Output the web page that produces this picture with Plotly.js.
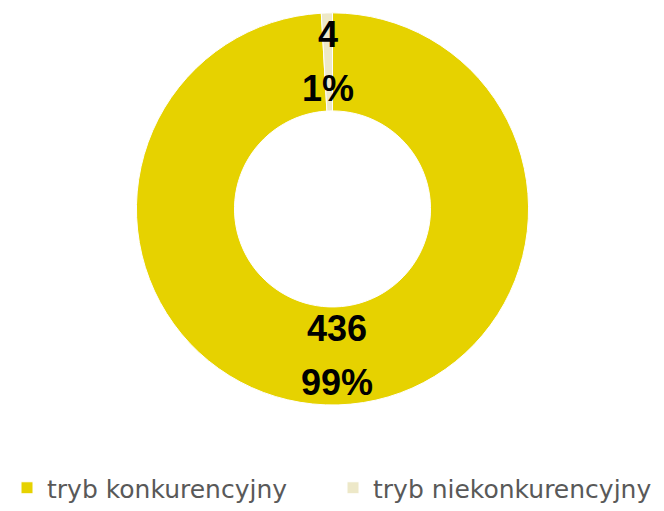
<!DOCTYPE html>
<html>
<head>
<meta charset="utf-8">
<script src="https://cdn.plot.ly/plotly-3.0.1.min.js"></script>
<style>html,body{margin:0;padding:0;background:#fff;}#chart{width:664px;height:511px;}</style>
</head>
<body>
<div id="chart"></div>
<script>
// Data
const categories = ['tryb konkurencyjny', 'tryb niekonkurencyjny'];
const values = [436, 4];
const colors = ['#E6D200', '#EDE8C8'];

const W = 664, H = 511;
const hole = 0.5;
// pie placement (pixels): circle occupies y 13..409, full width
const dom = {x: [1 / W, 1], y: [(H - 409) / H, (H - 13) / H]};
const domW = (dom.x[1] - dom.x[0]) * W;
const domH = (dom.y[1] - dom.y[0]) * H;
const cx = (dom.x[0] + dom.x[1]) / 2;
const cy = (dom.y[0] + dom.y[1]) / 2;

// Data labels placed at mid-ring of each slice, derived from the values
const total = values.reduce((a, b) => a + b, 0);
const Rpx = Math.min(domW, domH) / 2;
const rMid = Rpx * (1 + hole) / 2;
const annotations = [];
let cum = 0;
values.forEach((v, i) => {
  const mid = (cum + v / 2) / total * 2 * Math.PI; // clockwise from top
  cum += v;
  const x = cx + rMid * Math.sin(mid) / W;
  const y = cy + rMid * Math.cos(mid) / H;
  const font = {family: 'Liberation Sans, Arial, sans-serif', size: 36, color: '#000000', weight: 'bold'};
  annotations.push({xref: 'paper', yref: 'paper', x: x, y: y, yshift: 27, showarrow: false,
    text: '<b>' + v + '</b>', font: font, xanchor: 'center', yanchor: 'middle'});
  annotations.push({xref: 'paper', yref: 'paper', x: x, y: y, yshift: -27, showarrow: false,
    text: '<b>' + Math.round(v / total * 100) + '%</b>', font: font, xanchor: 'center', yanchor: 'middle'});
});

const trace = {
  type: 'pie',
  labels: categories,
  values: values,
  hole: hole,
  sort: false,
  direction: 'clockwise',
  rotation: 0,
  textinfo: 'none',
  marker: {colors: colors, line: {color: '#FFFFFF', width: 1}},
  domain: dom
};

const layout = {
  width: W, height: H,
  margin: {l: 0, r: 0, t: 0, b: 0, pad: 0},
  paper_bgcolor: '#FFFFFF',
  plot_bgcolor: '#FFFFFF',
  showlegend: true,
  legend: {
    orientation: 'h',
    x: 7 / W, xanchor: 'left',
    y: 1 - 493 / H, yanchor: 'middle',
    font: {family: 'DejaVu Sans, sans-serif', size: 25, color: '#595959'},
    entrywidth: 281, entrywidthmode: 'pixels',
    bgcolor: 'rgba(0,0,0,0)'
  },
  annotations: annotations
};

Plotly.newPlot('chart', [trace], layout, {displayModeBar: false, staticPlot: true});
</script>
</body>
</html>
